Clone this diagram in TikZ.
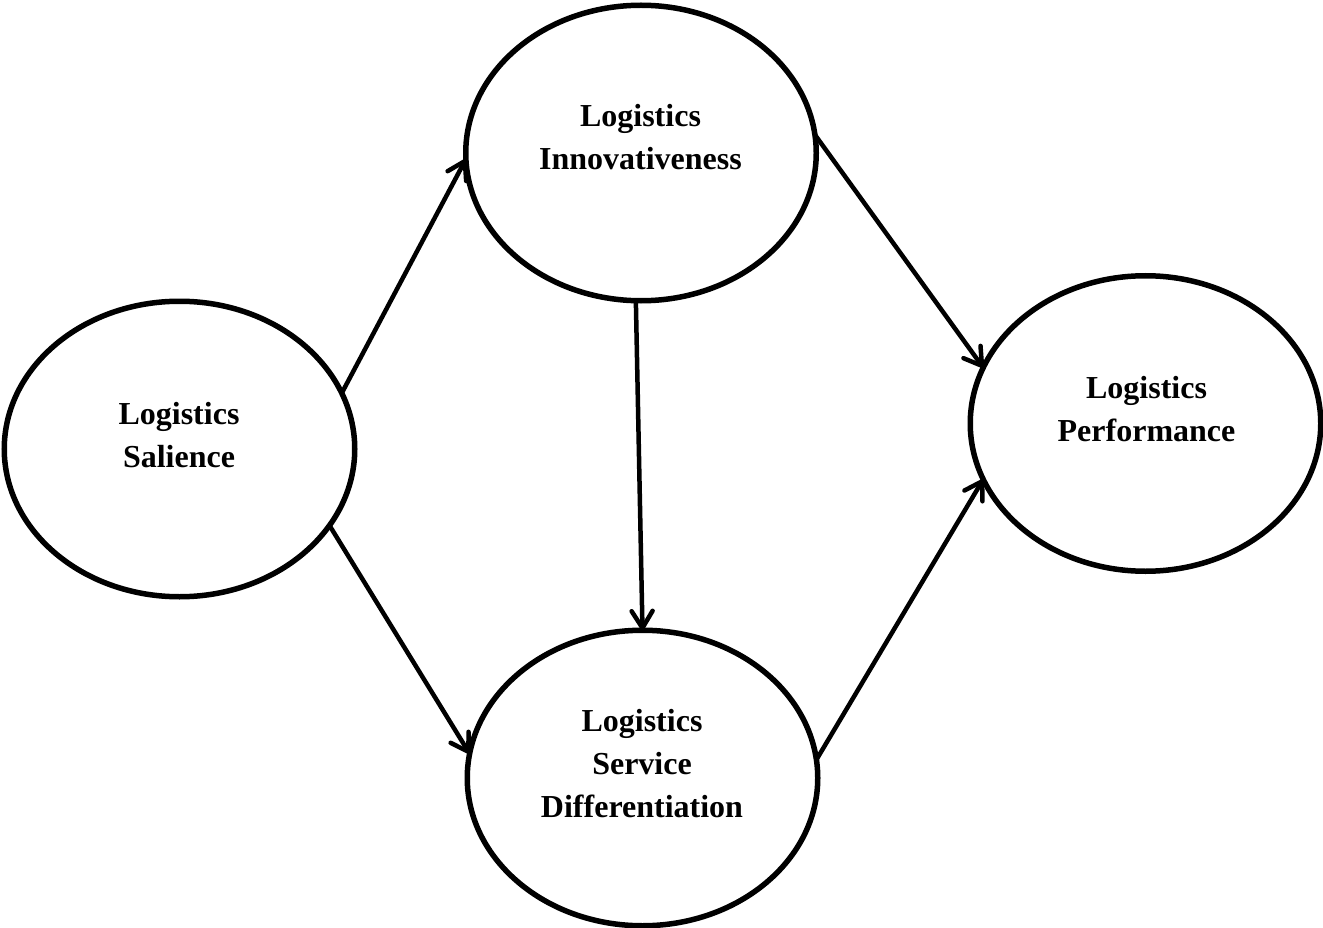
\documentclass[tikz,border=0pt]{standalone}
\usepackage{fontspec}
\setmainfont{Liberation Serif}
\usetikzlibrary{shapes.geometric,arrows.meta}

\tikzset{
  construct/.style={draw, ellipse, line width=5.5pt, inner sep=0pt, outer sep=0pt,
    minimum width=350.5pt, minimum height=295.5pt},
  lbl/.style={align=center, anchor=base, inner sep=0pt,
    font=\fontsize{32}{43}\selectfont\bfseries},
  conn/.style={line width=4.5pt, line cap=round,
    -{Straight Barb[length=17pt, width=21pt, round]}}
}

\begin{document}
\begin{tikzpicture}[x=1pt, y=-1pt]
  \useasboundingbox (0,0) rectangle (1323,928);

  % constructs
  \node[construct] (S) at (179.5,449) {};
  \node[construct] (I) at (641,153) {};
  \node[construct] (P) at (1145.5,423.5) {};
  \node[construct] (D) at (642.5,778) {};

  % labels (anchored on the last baseline)
  \node[lbl] (Slbl) at (179,467) {Logistics\\Salience};
  \node[lbl] (Ilbl) at (640.5,170) {Logistics\\Innovativeness};
  \node[lbl] (Plbl) at (1146.5,441) {Logistics\\Performance};
  \node[lbl] (Dlbl) at (642,817) {Logistics\\Service\\Differentiation};

  % paths
  \draw[conn] (S.19.2) -- (I.182);
  \draw[conn] (S.-27.4) -- (D.172.1);
  \draw[conn] (I.268.5) -- (D.90.6);
  \draw[conn] (I.6.7) -- (P.161.1);
  \draw[conn] (D.6.8) -- (P.199.1);
\end{tikzpicture}
\end{document}
